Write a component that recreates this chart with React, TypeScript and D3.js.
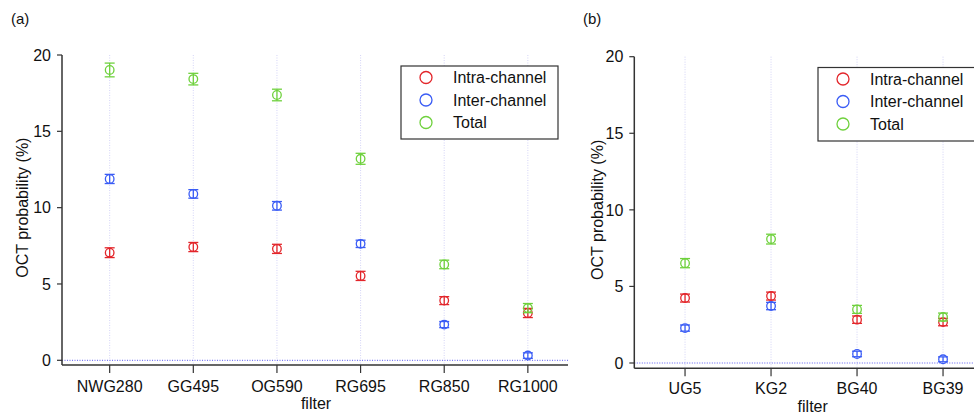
import React from "react";
import * as d3 from "d3";

const filtersA = ["NWG280", "GG495", "OG590", "RG695", "RG850", "RG1000"];
const intraA = [7.05, 7.42, 7.3, 5.53, 3.91, 3.1];
const intraErrA = [0.32, 0.3, 0.3, 0.3, 0.26, 0.3];
const interA = [11.88, 10.9, 10.12, 7.63, 2.34, 0.31];
const interErrA = [0.3, 0.28, 0.28, 0.24, 0.2, 0.18];
const totalA = [19.02, 18.42, 17.38, 13.2, 6.28, 3.42];
const totalErrA = [0.45, 0.38, 0.38, 0.36, 0.28, 0.3];

const filtersB = ["UG5", "KG2", "BG40", "BG39"];
const intraB = [4.24, 4.37, 2.83, 2.67];
const intraErrB = [0.26, 0.26, 0.24, 0.24];
const interB = [2.28, 3.72, 0.59, 0.24];
const interErrB = [0.2, 0.24, 0.18, 0.16];
const totalB = [6.52, 8.09, 3.5, 3.0];
const totalErrB = [0.3, 0.32, 0.26, 0.26];

const yTicks = [0, 5, 10, 15, 20];
const seriesNames = ["Intra-channel", "Inter-channel", "Total"];
const colors = ["#e3262b", "#3a5cf5", "#6fd13d"];

const FONT = "'Liberation Sans', Arial, Helvetica, sans-serif";

type PanelProps = {
  label: string;
  labelX: number;
  cats: string[];
  series: { v: number[]; e: number[] }[];
  xDomain: [number, number];
  xRange: [number, number];
  y0: number;
  y20: number;
  axisY: number;
  legend: { x: number; y: number; w: number; h: number };
  yLabelX: number;
  filterX: number;
  filterY: number;
  tickLabelY: number;
};

function Panel(p: PanelProps) {
  const x = d3.scaleLinear().domain(p.xDomain).range(p.xRange);
  const y = d3.scaleLinear().domain([0, 20]).range([p.y0, p.y20]);
  const left = p.xRange[0];
  const right = p.xRange[1];
  const top = y(20);
  const capW = 5;
  return (
    <g fontFamily={FONT}>
      <text x={p.labelX} y={24} fontSize={15} fill="#111">{p.label}</text>
      {/* vertical grid */}
      {p.cats.map((c, i) => (
        <line key={"g" + c} x1={x(i)} x2={x(i)} y1={top} y2={p.axisY}
          stroke="#c9c9f5" strokeWidth={0.8} strokeDasharray="1,1.5" />
      ))}
      {/* zero line */}
      <line x1={left} x2={right} y1={y(0)} y2={y(0)} stroke="#5a5af0" strokeWidth={1} strokeDasharray="1,1.5" />
      {/* axes */}
      <line x1={left} x2={left} y1={top} y2={p.axisY} stroke="#333" strokeWidth={1.5} />
      <line x1={left} x2={right} y1={p.axisY} y2={p.axisY} stroke="#333" strokeWidth={1.5} />
      {yTicks.map((t) => (
        <g key={"yt" + t}>
          <line x1={left - 5} x2={left} y1={y(t)} y2={y(t)} stroke="#333" strokeWidth={1.2} />
          <text x={left - 11} y={y(t)} dy="0.36em" textAnchor="end" fontSize={16} fill="#111">{t}</text>
        </g>
      ))}
      {p.cats.map((c, i) => (
        <g key={"xt" + c}>
          <line x1={x(i)} x2={x(i)} y1={p.axisY} y2={p.axisY + 8} stroke="#333" strokeWidth={1.2} />
          <text x={x(i)} y={p.tickLabelY} textAnchor="middle" fontSize={16} fill="#111">{c}</text>
        </g>
      ))}
      <text x={p.filterX} y={p.filterY} textAnchor="middle" fontSize={16} fill="#111">filter</text>
      <text transform={`translate(${p.yLabelX},${(top + p.y0) / 2}) rotate(-90)`} textAnchor="middle"
        dy="0.36em" fontSize={16} fill="#111">OCT probability (%)</text>
      {/* data */}
      {p.series.map((s, si) => (
        <g key={"s" + si} stroke={colors[si]} fill="none" strokeWidth={1.3}>
          {s.v.map((v, i) => {
            const cx = x(i);
            const ya = y(v + s.e[i]);
            const yb = y(v - s.e[i]);
            return (
              <g key={i}>
                <line x1={cx} x2={cx} y1={ya} y2={yb} />
                <line x1={cx - capW} x2={cx + capW} y1={ya} y2={ya} />
                <line x1={cx - capW} x2={cx + capW} y1={yb} y2={yb} />
                <circle cx={cx} cy={y(v)} r={4.3} />
              </g>
            );
          })}
        </g>
      ))}
      {/* legend */}
      <rect x={p.legend.x} y={p.legend.y} width={p.legend.w} height={p.legend.h} fill="#fff" stroke="#333" strokeWidth={1.2} />
      {seriesNames.map((n, i) => {
        const cy = p.legend.y + 11.5 + i * 22.5;
        return (
          <g key={n}>
            <circle cx={p.legend.x + 25} cy={cy} r={6} fill="none" stroke={colors[i]} strokeWidth={1.3} />
            <text x={p.legend.x + 52} y={cy} dy="0.36em" fontSize={16} fill="#111">{n}</text>
          </g>
        );
      })}
    </g>
  );
}

export default function App() {
  return (
    <svg width={974} height={415} style={{ position: "absolute", left: 0, top: 0, background: "#fff" }}>
      <rect width={974} height={415} fill="#fff" />
      <Panel
        label="(a)" labelX={11}
        cats={filtersA}
        series={[{ v: intraA, e: intraErrA }, { v: interA, e: interErrA }, { v: totalA, e: totalErrA }]}
        xDomain={[-0.57, 5.48]} xRange={[62, 568]}
        y0={360.3} y20={55} axisY={365}
        legend={{ x: 401, y: 66, w: 157, h: 73 }}
        yLabelX={22} filterX={316} filterY={409} tickLabelY={392}
      />
      <Panel
        label="(b)" labelX={583}
        cats={filtersB}
        series={[{ v: intraB, e: intraErrB }, { v: interB, e: interErrB }, { v: totalB, e: totalErrB }]}
        xDomain={[-0.59, 3.36]} xRange={[634.3, 974]}
        y0={363} y20={56.7} axisY={368.3}
        legend={{ x: 818, y: 67.5, w: 170, h: 73.5 }}
        yLabelX={597} filterX={812.7} filterY={412} tickLabelY={394}
      />
    </svg>
  );
}
